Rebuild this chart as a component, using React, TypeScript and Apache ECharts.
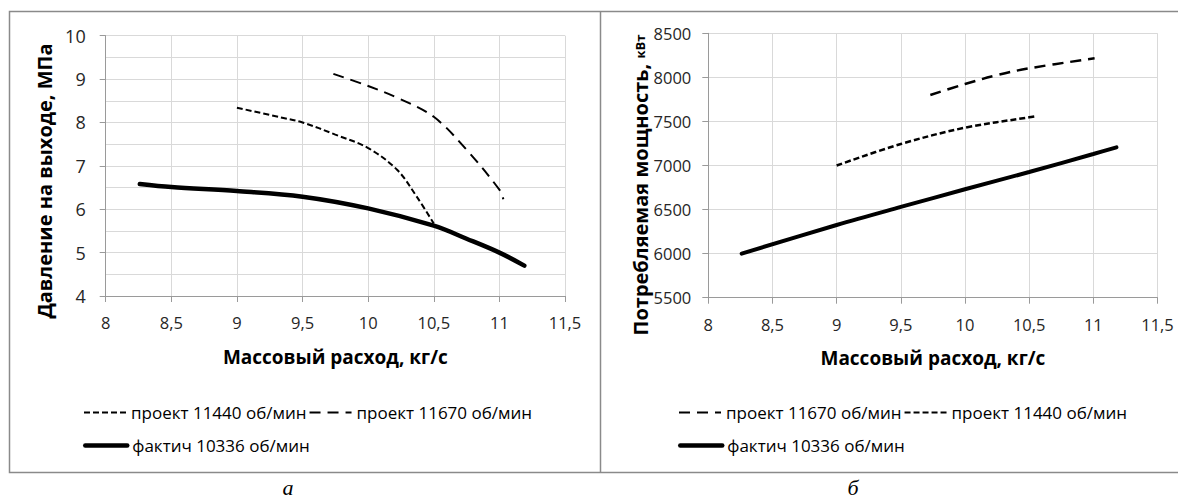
import React, { useEffect, useRef } from "react";
import * as echarts from "echarts";

const FONT = "'Open Sans', 'Noto Sans', 'DejaVu Sans', sans-serif";

// Axis ranges / ticks
const X_MIN = 8;
const X_MAX = 11.5;
const X_STEP = 0.5;
const P_MIN = 4;
const P_MAX = 10;
const P_STEP = 1;
const N_MIN = 5500;
const N_MAX = 8500;
const N_STEP = 500;

// Series names
const S11440 = "проект 11440 об/мин";
const S11670 = "проект 11670 об/мин";
const SFACT = "фактич 10336 об/мин";

// Chart a: pressure, MPa vs mass flow, kg/s
const pressure11440 = [
  [9.0, 8.34], [9.33, 8.12], [9.5, 8.0], [9.75, 7.72], [10.0, 7.41],
  [10.22, 6.91], [10.37, 6.29], [10.5, 5.67],
];
const pressure11670 = [
  [9.735, 9.12], [10.0, 8.84], [10.23, 8.56], [10.5, 8.13], [10.75, 7.37],
  [11.0, 6.45], [11.03, 6.23],
];
const pressureFact = [
  [8.26, 6.58], [8.5, 6.51], [9.0, 6.42], [9.5, 6.29], [10.0, 6.02],
  [10.5, 5.62], [10.75, 5.32], [11.0, 5.0], [11.19, 4.7],
];

// Chart б: consumed power, kW vs mass flow, kg/s
const power11670 = [
  [9.73, 7800], [10.0, 7924], [10.25, 8025], [10.5, 8103], [11.01, 8216],
];
const power11440 = [
  [9.0, 7000], [9.5, 7244], [10.0, 7429], [10.5, 7547], [10.54, 7556],
];
const powerFact = [
  [8.26, 6000], [9.0, 6325], [9.5, 6530], [10.0, 6730], [10.5, 6926],
  [11.0, 7130], [11.18, 7206],
];

const fmt = (v: number) => String(v).replace(".", ",");

export default function App() {
  const ref = useRef<HTMLDivElement>(null);

  useEffect(() => {
    if (!ref.current) return;
    const chart = echarts.init(ref.current, undefined, { renderer: "svg" });

    const labelStyle = { color: "#262626", fontFamily: FONT, fontSize: 16.5 };
    const axisLineStyle = { color: "#9a9a9a", width: 1 };
    const gridLine = { color: "#d9d9d9", width: 1 };

    const xAxisBase = (gridIndex: number) => ({
      type: "value",
      gridIndex,
      min: X_MIN,
      max: X_MAX,
      interval: X_STEP,
      name: "Массовый расход, кг/с",
      nameLocation: "middle",
      nameGap: 51,
      nameTextStyle: { fontFamily: FONT, fontSize: 19, fontWeight: "bold", color: "#000" },
      axisLine: { show: true, onZero: false, lineStyle: axisLineStyle },
      axisTick: { show: true, length: 6, lineStyle: axisLineStyle },
      axisLabel: { ...labelStyle, margin: 18, formatter: fmt },
      splitLine: { show: true, lineStyle: gridLine },
    });

    const legendBase = {
      itemWidth: 42,
      itemHeight: 14,
      itemGap: 2,
      padding: 0,
      orient: "horizontal",
      textStyle: { fontFamily: FONT, fontSize: 17, color: "#000" },
      itemStyle: { opacity: 0, color: "rgba(0,0,0,0)", borderWidth: 0 },
      lineStyle: { width: "inherit" },
      selectedMode: false,
    };

    const option: any = {
      animation: false,
      backgroundColor: "#fff",
      grid: [
        { left: 105.7, top: 35.7, width: 459.3, height: 260.3 },
        { left: 708.3, top: 33.3, width: 449.2, height: 264.4 },
      ],
      xAxis: [xAxisBase(0), xAxisBase(1)],
      yAxis: [
        {
          type: "value",
          gridIndex: 0,
          min: P_MIN,
          max: P_MAX,
          interval: P_STEP,
          axisLine: { show: true, lineStyle: axisLineStyle },
          axisTick: { show: true, length: 6, lineStyle: axisLineStyle },
          axisLabel: { ...labelStyle, fontSize: 18, margin: 20, formatter: fmt },
          splitLine: { show: true, lineStyle: gridLine },
          minorTick: { show: false, splitNumber: 2 },
          minorSplitLine: { show: true, lineStyle: gridLine },
        },
        {
          type: "value",
          gridIndex: 1,
          min: N_MIN,
          max: N_MAX,
          interval: N_STEP,
          axisLine: { show: true, lineStyle: axisLineStyle },
          axisTick: { show: true, length: 6, lineStyle: axisLineStyle },
          axisLabel: { ...labelStyle, margin: 17, formatter: (v: number) => String(v) },
          splitLine: { show: true, lineStyle: gridLine },
        },
      ],
      legend: [
        { ...legendBase, left: 83, top: 404, data: [S11440, S11670] },
        { ...legendBase, left: 83, top: 437, data: [SFACT] },
        { ...legendBase, left: 678, top: 404, data: [S11670, S11440] },
        { ...legendBase, left: 678, top: 437, data: [SFACT] },
      ],
      series: [
        {
          name: S11440, type: "line", xAxisIndex: 0, yAxisIndex: 0, data: pressure11440,
          smooth: 0.35, symbol: "none", lineStyle: { color: "#000", width: 2, type: [6, 3] },
          itemStyle: { color: "#000" },
        },
        {
          name: S11670, type: "line", xAxisIndex: 0, yAxisIndex: 0, data: pressure11670,
          smooth: 0.35, symbol: "none", lineStyle: { color: "#000", width: 2, type: [11, 7] },
          itemStyle: { color: "#000" },
        },
        {
          name: SFACT, type: "line", xAxisIndex: 0, yAxisIndex: 0, data: pressureFact,
          smooth: 0.35, symbol: "none", lineStyle: { color: "#000", width: 4.5, cap: "round" },
          itemStyle: { color: "#000" },
        },
        {
          name: S11670, type: "line", xAxisIndex: 1, yAxisIndex: 1, data: power11670,
          smooth: 0.35, symbol: "none", lineStyle: { color: "#000", width: 2.5, type: [11, 7] },
          itemStyle: { color: "#000" },
        },
        {
          name: S11440, type: "line", xAxisIndex: 1, yAxisIndex: 1, data: power11440,
          smooth: 0.35, symbol: "none", lineStyle: { color: "#000", width: 2.5, type: [6, 3] },
          itemStyle: { color: "#000" },
        },
        {
          name: SFACT, type: "line", xAxisIndex: 1, yAxisIndex: 1, data: powerFact,
          smooth: 0.35, symbol: "none", lineStyle: { color: "#000", width: 4, cap: "round" },
          itemStyle: { color: "#000" },
        },
      ],
      graphic: [
        {
          type: "rect", silent: true, z: -1,
          shape: { x: 9.5, y: 11.5, width: 1180, height: 461 },
          style: { fill: "none", stroke: "#8a8a8a", lineWidth: 1.5 },
        },
        {
          type: "line", silent: true,
          shape: { x1: 600.5, y1: 11.5, x2: 600.5, y2: 472.5 },
          style: { stroke: "#8a8a8a", lineWidth: 1.5 },
        },
        {
          type: "text", silent: true, x: 44, y: 181, rotation: Math.PI / 2,
          style: {
            text: "Давление на выходе, МПа",
            font: `bold 20px ${FONT}`, fill: "#000", align: "center", verticalAlign: "middle",
          },
        },
        {
          type: "text", silent: true, x: 640, y: 185, rotation: Math.PI / 2,
          style: {
            text: "{a|Потребляемая мощность, }{b|кВт}",
            align: "center", verticalAlign: "middle",
            rich: {
              a: { font: `bold 20px ${FONT}`, fill: "#000" },
              b: { font: `bold 13px ${FONT}`, fill: "#000" },
            },
          },
        },
        {
          type: "text", silent: true, x: 288, y: 498,
          style: {
            text: "а", font: "italic 22px 'Liberation Serif', serif", fill: "#000",
            align: "center", verticalAlign: "bottom",
          },
        },
        {
          type: "text", silent: true, x: 853, y: 498,
          style: {
            text: "б", font: "italic 22px 'Liberation Serif', serif", fill: "#000",
            align: "center", verticalAlign: "bottom",
          },
        },
      ],
    };

    chart.setOption(option);
    return () => chart.dispose();
  }, []);

  return (
    <div
      ref={ref}
      style={{ position: "absolute", left: 0, top: 0, width: 1178, height: 498, background: "#fff" }}
    />
  );
}
